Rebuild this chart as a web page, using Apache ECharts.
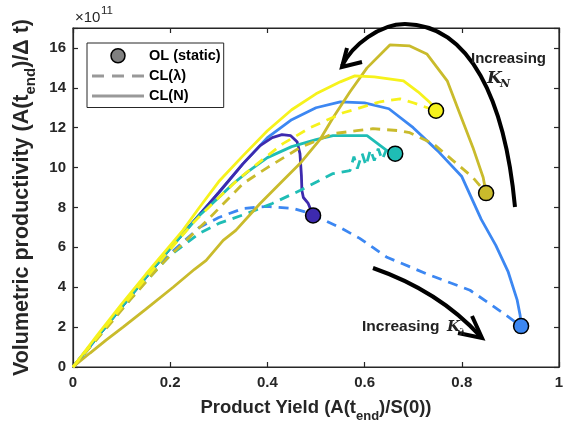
<!DOCTYPE html>
<html>
<head>
<meta charset="utf-8">
<script src="https://cdn.jsdelivr.net/npm/echarts@6/dist/echarts.min.js"></script>
<style>
  html, body { margin: 0; padding: 0; background: #fff; }
  #main { width: 568px; height: 430px; }
</style>
</head>
<body>
<div id="main"></div>
<script>
// x = product yield, y = productivity (x1e11)
var xTicks = [0, 0.2, 0.4, 0.6, 0.8, 1];
var yTicks = [0, 2, 4, 6, 8, 10, 12, 14, 16];

// CL(N) - solid
var blueSolid = [[0,0],[0.05,1.5],[0.1,3.0],[0.15,4.5],[0.2,5.95],[0.25,7.35],[0.3,8.75],[0.35,10.2],[0.4,11.5],[0.45,12.4],[0.5,13.0],[0.55,13.3],[0.6,13.25],[0.65,12.95],[0.7,12.0],[0.75,10.85],[0.8,9.55],[0.84,7.4],[0.87,6.1],[0.895,4.8],[0.914,3.35],[0.92,2.6],[0.922,2.05]];
var purpleSolid = [[0,0],[0.05,1.5],[0.1,3.0],[0.15,4.5],[0.2,5.95],[0.25,7.35],[0.3,8.75],[0.35,10.2],[0.385,11.1],[0.41,11.5],[0.43,11.65],[0.448,11.6],[0.461,11.3],[0.467,10.7],[0.47,9.6],[0.471,8.85],[0.474,8.5],[0.484,8.2],[0.494,7.6]];
var tealSolid = [[0,0],[0.05,1.5],[0.1,3.0],[0.15,4.5],[0.2,5.95],[0.26,7.6],[0.3,8.5],[0.33,9.2],[0.36,9.8],[0.4,10.5],[0.45,11.05],[0.5,11.4],[0.535,11.6],[0.605,11.6],[0.646,10.85],[0.663,10.7]];
var oliveSolid = [[0,0],[0.035,0.7],[0.068,1.35],[0.103,2.0],[0.15,2.9],[0.206,4.0],[0.25,4.9],[0.274,5.35],[0.309,6.35],[0.335,6.85],[0.385,8.2],[0.43,9.3],[0.467,10.2],[0.508,11.4],[0.535,12.5],[0.57,13.8],[0.605,15.0],[0.652,16.15],[0.693,16.1],[0.728,15.7],[0.77,14.35],[0.796,12.7],[0.823,11.0],[0.844,9.5],[0.85,8.72]];
var yellowSolid = [[0,0],[0.05,1.6],[0.1,3.15],[0.15,4.65],[0.2,6.1],[0.226,6.85],[0.26,8.0],[0.3,9.3],[0.35,10.6],[0.4,11.85],[0.45,12.9],[0.5,13.7],[0.55,14.3],[0.58,14.6],[0.62,14.55],[0.68,14.35],[0.71,13.8],[0.735,13.25],[0.747,12.85]];

// CL(lambda) - dashed
var blueDash = [[0,0],[0.05,1.45],[0.1,2.9],[0.154,4.45],[0.179,5.2],[0.212,5.95],[0.26,7.0],[0.3,7.5],[0.35,7.95],[0.4,8.05],[0.453,7.95],[0.488,7.7],[0.549,7.0],[0.59,6.45],[0.646,5.5],[0.735,4.6],[0.817,3.85],[0.885,2.7],[0.922,2.05]];
var tealDash = [[0,0],[0.05,1.45],[0.1,2.9],[0.15,4.3],[0.2,5.6],[0.26,6.7],[0.3,7.2],[0.358,7.7],[0.41,8.2],[0.467,8.85],[0.535,9.7],[0.57,9.85],[0.578,10.55],[0.585,9.95],[0.595,10.7],[0.603,10.1],[0.612,10.9],[0.62,10.35],[0.628,10.95],[0.636,10.4],[0.645,10.9],[0.652,10.45],[0.663,10.7]];
var oliveDash = [[0,0],[0.035,1.0],[0.062,1.75],[0.088,2.5],[0.117,3.35],[0.144,4.1],[0.171,4.85],[0.2,5.6],[0.233,6.35],[0.282,7.5],[0.35,9.2],[0.4,10.0],[0.467,11.0],[0.535,11.7],[0.584,11.85],[0.617,11.95],[0.673,11.85],[0.693,11.75],[0.741,11.2],[0.782,10.35],[0.823,9.5],[0.85,8.72]];
var yellowDash = [[0,0],[0.05,1.5],[0.1,3.0],[0.15,4.45],[0.2,5.9],[0.25,7.3],[0.3,8.5],[0.344,9.5],[0.39,10.4],[0.432,11.2],[0.488,12.0],[0.556,12.75],[0.632,13.3],[0.673,13.45],[0.7,13.25],[0.735,12.95],[0.747,12.85]];

// OL (static) end points
var olX = [0.494, 0.663, 0.747, 0.85, 0.922];
var olY = [7.6, 10.7, 12.85, 8.72, 2.05];

var cPurple = '#3d2aae', cBlue = '#3c87f2', cTeal = '#1fbdb5', cOlive = '#c9bb2c', cYellow = '#f6f21c';
var olColors = [cPurple, cTeal, cYellow, cOlive, cBlue];

var myChart = echarts.init(document.getElementById('main'));

function lineSeries(name, data, color, dashed) {
    return {
        name: name,
        type: 'line',
        data: data,
        symbol: 'none',
        silent: true,
        lineStyle: { color: color, width: 2.8, type: dashed ? [10, 7] : 'solid' },
        itemStyle: { color: color }
    };
}

var axisColor = '#262626';
var fontFam = 'Arial, "Liberation Sans", sans-serif';

var olData = [];
for (var i = 0; i < olX.length; i++) {
    olData.push({ value: [olX[i], olY[i]], itemStyle: { color: olColors[i] } });
}

var nameRich = function (size) {
    return {
        b: { fontFamily: fontFam, fontWeight: 'bold', fontSize: size, color: axisColor, verticalAlign: 'middle', lineHeight: size + 10 },
        s: { fontFamily: fontFam, fontWeight: 'bold', fontSize: Math.round(size * 0.68), color: axisColor, verticalAlign: 'bottom', lineHeight: size + 10 }
    };
};

var option = {
    animation: false,
    backgroundColor: '#fff',
    grid: { left: 73, right: 9, top: 28, bottom: 63, show: true, borderColor: axisColor, borderWidth: 1.2, backgroundColor: 'transparent' },
    legend: {
        left: 87, top: 43,
        orient: 'vertical',
        itemWidth: 52, itemHeight: 14, itemGap: 5,
        padding: [5, 3, 4, 5],
        borderColor: axisColor, borderWidth: 1,
        backgroundColor: '#fff',
        selectedMode: false,
        textStyle: { fontFamily: fontFam, fontWeight: 'bold', fontSize: 14.5, color: '#000' },
        data: [
            { name: 'OL (static)', icon: 'circle', itemStyle: { color: '#808080', borderColor: '#000', borderWidth: 1.5 } },
            { name: 'CL(λ)', icon: 'path://M0,0h12v3h-12z M20,0h12v3h-12z M40,0h12v3h-12z', itemStyle: { color: '#999', borderWidth: 0 } },
            { name: 'CL(N)', icon: 'path://M0,0h52v3h-52z', itemStyle: { color: '#999', borderWidth: 0 } }
        ]
    },
    xAxis: [{
        type: 'value', min: xTicks[0], max: xTicks[xTicks.length - 1], interval: 0.2,
        name: '{b|Product Yield (A(t}{s|end}{b|)/S(0))}',
        nameLocation: 'middle', nameGap: 27,
        nameTextStyle: { rich: nameRich(18.5) },
        axisLine: { show: true, onZero: false, lineStyle: { color: axisColor, width: 1.2 } },
        axisTick: { inside: true, length: 5, lineStyle: { color: axisColor, width: 1.2 } },
        axisLabel: {
            margin: 8, fontFamily: fontFam, fontWeight: 'bold', fontSize: 15, color: axisColor,
            formatter: function (v) { return (v === 0 || v === 1) ? String(v) : v.toFixed(1); }
        },
        splitLine: { show: false }
    }, {
        type: 'value', position: 'top', min: 0, max: 1, interval: 0.2,
        axisLine: { show: true, onZero: false, lineStyle: { color: axisColor, width: 1.2 } },
        axisTick: { show: true, inside: true, length: 5, lineStyle: { color: axisColor, width: 1.2 } },
        axisLabel: { show: false },
        splitLine: { show: false }
    }],
    yAxis: [{
        type: 'value', min: 0, max: 17, interval: 2,
        name: '{b|Volumetric productivity (A(t}{s|end}{b|)/Δ t)}',
        nameLocation: 'middle', nameGap: 35, nameRotate: 90,
        nameTextStyle: { rich: nameRich(21.5) },
        axisLine: { show: true, onZero: false, lineStyle: { color: axisColor, width: 1.2 } },
        axisTick: { show: true, inside: true, length: 5, lineStyle: { color: axisColor, width: 1.2 } },
        axisLabel: {
            margin: 7, fontFamily: fontFam, fontWeight: 'bold', fontSize: 15, color: axisColor,
            formatter: function (v) { return yTicks.indexOf(v) >= 0 ? String(v) : ''; }
        },
        splitLine: { show: false }
    }, {
        type: 'value', position: 'right', min: 0, max: 17, interval: 2,
        axisLine: { show: true, onZero: false, lineStyle: { color: axisColor, width: 1.2 } },
        axisTick: { show: true, inside: true, length: 5, lineStyle: { color: axisColor, width: 1.2 } },
        axisLabel: { show: false },
        splitLine: { show: false }
    }],
    series: [
        lineSeries('CL(N)', blueSolid, cBlue, false),
        lineSeries('CL(λ)', blueDash, cBlue, true),
        lineSeries('CL(N)', purpleSolid, cPurple, false),
        lineSeries('CL(N)', tealSolid, cTeal, false),
        lineSeries('CL(λ)', tealDash, cTeal, true),
        lineSeries('CL(N)', oliveSolid, cOlive, false),
        lineSeries('CL(λ)', oliveDash, cOlive, true),
        lineSeries('CL(N)', yellowSolid, cYellow, false),
        lineSeries('CL(λ)', yellowDash, cYellow, true),
        {
            name: 'OL (static)',
            type: 'scatter',
            data: olData,
            symbol: 'circle',
            symbolSize: 15,
            z: 5,
            silent: true,
            itemStyle: { color: '#808080', borderColor: '#000', borderWidth: 1.5, opacity: 1 }
        }
    ],
    graphic: [
        // exponent label
        { type: 'text', x: 75, y: 18, style: { text: '×10', font: '15px ' + fontFam, fill: axisColor, verticalAlign: 'middle' } },
        { type: 'text', x: 101, y: 11, style: { text: '11', font: '11.5px ' + fontFam, fill: axisColor, verticalAlign: 'middle' } },
        // increasing K_N arrow
        { type: 'bezierCurve', shape: { x1: 515, y1: 207, cpx1: 505, cpy1: 100, cpx2: 470, cpy2: 25, x2: 405, y2: 24 }, style: { stroke: '#000', lineWidth: 4, fill: null }, z: 10 },
        { type: 'bezierCurve', shape: { x1: 405, y1: 24, cpx1: 380, cpy1: 24, cpx2: 352, cpy2: 45, x2: 342, y2: 66 }, style: { stroke: '#000', lineWidth: 4, fill: null }, z: 10 },
        { type: 'polyline', shape: { points: [[347, 48], [342, 67], [362, 62]] }, style: { stroke: '#000', lineWidth: 4, fill: null }, z: 10 },
        { type: 'text', x: 471, y: 59, style: { text: 'Increasing', font: 'bold 15px ' + fontFam, fill: '#222', verticalAlign: 'middle' }, z: 10 },
        { type: 'text', x: 487, y: 79, style: { text: 'K', font: 'italic bold 17px "DejaVu Serif", serif', fill: '#222', verticalAlign: 'middle' }, z: 10 },
        { type: 'text', x: 500, y: 84, style: { text: 'N', font: 'italic bold 11px "DejaVu Serif", serif', fill: '#222', verticalAlign: 'middle' }, z: 10 },
        // increasing K_lambda arrow
        { type: 'bezierCurve', shape: { x1: 373, y1: 268, cpx1: 439, cpy1: 291, x2: 480, y2: 336 }, style: { stroke: '#000', lineWidth: 4, fill: null }, z: 10 },
        { type: 'polyline', shape: { points: [[472, 316], [482, 338], [458, 333]] }, style: { stroke: '#000', lineWidth: 4, fill: null }, z: 10 },
        { type: 'text', x: 362, y: 327, style: { text: 'Increasing', font: 'bold 15.5px ' + fontFam, fill: '#222', verticalAlign: 'middle' }, z: 10 },
        { type: 'text', x: 447, y: 327, style: { text: 'K', font: 'italic bold 15px "DejaVu Serif", serif', fill: '#222', verticalAlign: 'middle' }, z: 10 },
        { type: 'text', x: 459, y: 332, style: { text: 'λ', font: 'italic bold 10px "DejaVu Serif", serif', fill: '#222', verticalAlign: 'middle' }, z: 10 }
    ]
};

myChart.setOption(option);

window.onresize = function () {
    myChart.resize();
};
</script>
</body>
</html>
